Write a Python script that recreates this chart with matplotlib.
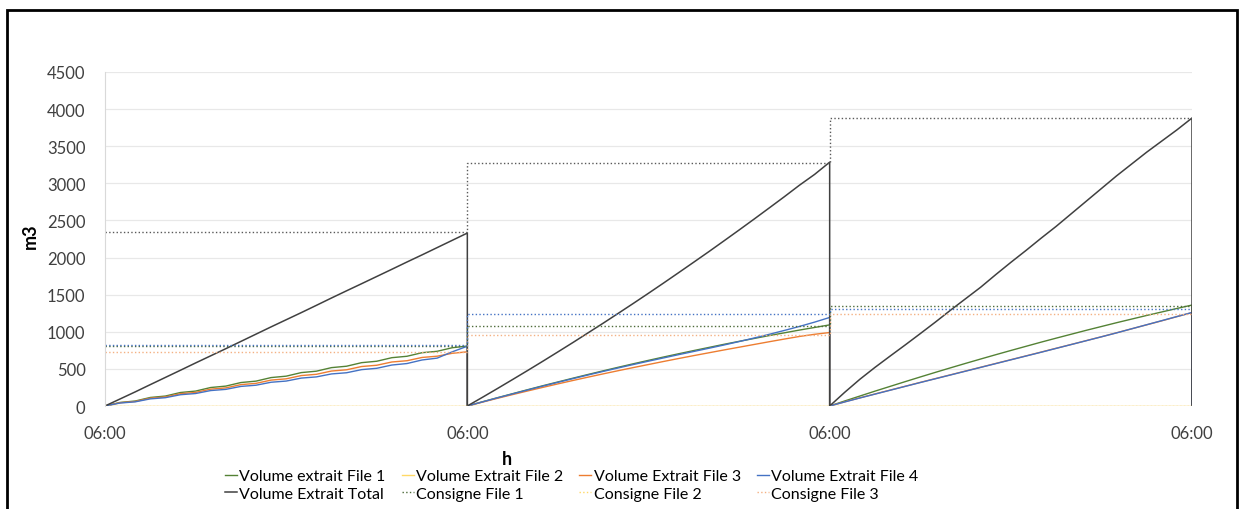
import matplotlib.pyplot as plt
from matplotlib.patches import Rectangle

plt.rcParams['font.family'] = ['Lato', 'DejaVu Sans']

# hours from first 06:00, 3 days
hours = list(range(25))
day_start = [0, 24, 48]
xtick_pos = [0, 24, 48, 72]
xtick_labels = ['06:00', '06:00', '06:00', '06:00']

# Volume extrait (m3), hourly, one list per day
vol_file1 = [
    [0, 48, 67, 115, 134, 182, 201, 249, 268, 316, 335, 383, 402, 450, 469, 517, 536, 584, 603, 651, 670, 718, 737, 785, 808],
    [0, 57, 112, 166, 220, 273, 324, 375, 425, 474, 522, 569, 615, 660, 704, 747, 789, 831, 871, 910, 949, 986, 1023, 1058, 1093],
    [0, 68, 134, 200, 264, 328, 391, 453, 514, 574, 633, 691, 748, 804, 860, 914, 967, 1020, 1071, 1122, 1171, 1220, 1267, 1314, 1360],
]
vol_file2 = [[0] * 25, [0] * 25, [0] * 25]
vol_file3 = [
    [0, 44, 61, 105, 122, 166, 183, 227, 244, 288, 305, 349, 366, 410, 427, 471, 488, 532, 549, 593, 610, 654, 671, 710, 730],
    [0, 52, 104, 154, 203, 251, 298, 344, 389, 433, 476, 518, 559, 600, 640, 679, 717, 755, 792, 829, 866, 902, 937, 966, 990],
    [0, 56, 110, 162, 214, 266, 318, 369, 420, 471, 522, 573, 624, 675, 726, 778, 829, 881, 933, 986, 1040, 1094, 1148, 1204, 1258],
]
vol_file4 = [
    [0, 40, 56, 96, 112, 152, 168, 208, 224, 264, 280, 320, 336, 376, 392, 432, 448, 490, 508, 552, 572, 620, 645, 730, 805],
    [0, 55, 110, 163, 216, 268, 319, 369, 418, 466, 513, 559, 604, 648, 692, 735, 778, 822, 868, 916, 966, 1018, 1072, 1130, 1193],
    [0, 55, 108, 160, 212, 264, 316, 367, 418, 469, 520, 571, 622, 673, 724, 776, 828, 880, 932, 985, 1040, 1095, 1150, 1205, 1260],
]
vol_total = [
    [0, 95, 190, 288, 385, 482, 580, 676, 772, 870, 968, 1066, 1162, 1258, 1356, 1455, 1552, 1648, 1745, 1842, 1940, 2036, 2134, 2232, 2330],
    [0, 117, 236, 357, 479, 603, 729, 856, 986, 1116, 1249, 1383, 1519, 1657, 1797, 1938, 2080, 2225, 2371, 2519, 2669, 2820, 2975, 3120, 3285],
    [0, 185, 360, 520, 672, 822, 975, 1130, 1290, 1445, 1600, 1770, 1935, 2095, 2260, 2420, 2590, 2760, 2930, 3100, 3260, 3420, 3570, 3720, 3880],
]

# Consignes (m3), one value per day
cons_file1 = [805, 1080, 1342]
cons_file2 = [0, 0, 0]
cons_file3 = [723, 958, 1238]
cons_file4 = [820, 1242, 1305]
cons_total = [2350, 3280, 3880]


def flatten(days):
    xs, ys = [], []
    for d, vals in zip(day_start, days):
        xs += [d + h for h in hours]
        ys += vals
    xs.append(72)
    ys.append(0)
    return xs, ys


def steps(vals):
    xs, ys = [], []
    for d, v in zip(day_start, vals):
        xs += [d, d + 24]
        ys += [v, v]
    return xs, ys


fig = plt.figure(figsize=(12.39, 5.10), dpi=100)
ax = fig.add_axes([105 / 1239, 1 - 407 / 510, (1192 - 105) / 1239, (407 - 73) / 510])

green = '#548235'
yellow = '#FFC000'
orange = '#ED7D31'
blue = '#4472C4'
dark = '#404040'

h1, = ax.plot(*flatten(vol_file1), color=green, lw=1.0, label='Volume extrait File 1')
h2, = ax.plot(*flatten(vol_file2), color=yellow, lw=1.0, alpha=0.6, label='Volume Extrait File 2')
h3, = ax.plot(*flatten(vol_file3), color=orange, lw=1.0, label='Volume Extrait File 3')
h4, = ax.plot(*flatten(vol_file4), color=blue, lw=1.0, label='Volume Extrait File 4')
h5, = ax.plot(*flatten(vol_total), color=dark, lw=1.1, label='Volume Extrait Total')

c1, = ax.plot(*steps(cons_file1), color='#4E6B3A', lw=1.0, ls=':', label='Consigne File 1')
c2, = ax.plot(*steps(cons_file2), color='#FFD966', lw=1.0, ls=':', label='Consigne File 2')
c3, = ax.plot(*steps(cons_file3), color='#F4B183', lw=1.0, ls=':', label='Consigne File 3')
ax.plot(*steps(cons_file4), color=blue, lw=1.0, ls=':')
ax.plot(*steps(cons_total), color='#595959', lw=1.0, ls=':')

ax.set_xlim(0, 72)
ax.set_ylim(0, 4500)
ax.set_yticks(range(0, 4501, 500))
ax.set_xticks(xtick_pos)
ax.set_xticklabels(xtick_labels)
ax.tick_params(length=0, labelsize=12, colors='#404040')
ax.tick_params(axis='y', pad=14)
ax.tick_params(axis='x', pad=14)
ax.grid(axis='y', color='#E8E8E8', lw=0.9)
ax.set_axisbelow(True)
for s in ['top', 'right', 'bottom']:
    ax.spines[s].set_visible(False)
ax.spines['left'].set_color('#D9D9D9')

fig.text(30 / 1239, 1 - 236 / 510, 'm3', rotation=90, fontsize=13, fontweight='bold',
         ha='center', va='center')
fig.text(507 / 1239, 1 - 460 / 510, 'h', fontsize=13, fontweight='bold',
         ha='center', va='center')

# column-wise fill -> reorder so rows read left to right
handles = [h1, h5, h2, c1, h3, c2, h4, c3]
fig.legend(handles=handles, labels=[h.get_label() for h in handles], ncol=4,
           loc='upper left', bbox_to_anchor=(217 / 1239, 1 - 462 / 510),
           frameon=False, fontsize=11.5, handlelength=0.75, handletextpad=0.15,
           columnspacing=1.0, labelspacing=0.2, borderpad=0)

fig.patches.append(Rectangle((7 / 1239, -0.1), (1237 - 7) / 1239, 1.1 - 11 / 510,
                             transform=fig.transFigure, fill=False, lw=2,
                             edgecolor='black'))

fig.savefig('out.png', dpi=100)
